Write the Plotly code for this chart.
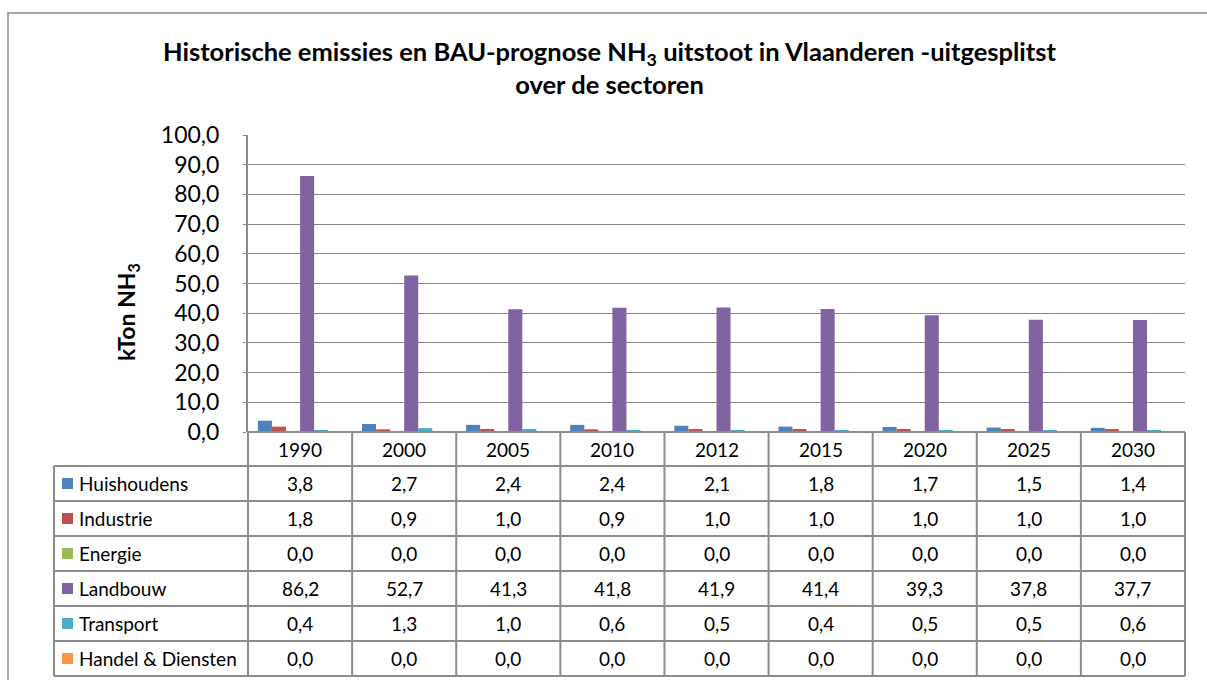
import plotly.graph_objects as go

years = ["1990", "2000", "2005", "2010", "2012", "2015", "2020", "2025", "2030"]
sectors = ["Huishoudens", "Industrie", "Energie", "Landbouw", "Transport", "Handel & Diensten"]
huishoudens = [3.8, 2.7, 2.4, 2.4, 2.1, 1.8, 1.7, 1.5, 1.4]
industrie = [1.8, 0.9, 1.0, 0.9, 1.0, 1.0, 1.0, 1.0, 1.0]
energie = [0.0, 0.0, 0.0, 0.0, 0.0, 0.0, 0.0, 0.0, 0.0]
landbouw = [86.2, 52.7, 41.3, 41.8, 41.9, 41.4, 39.3, 37.8, 37.7]
transport = [0.4, 1.3, 1.0, 0.6, 0.5, 0.4, 0.5, 0.5, 0.6]
handel = [0.0, 0.0, 0.0, 0.0, 0.0, 0.0, 0.0, 0.0, 0.0]
series_values = [huishoudens, industrie, energie, landbouw, transport, handel]
colors = ["#4F81BD", "#C0504D", "#9BBB59", "#8064A2", "#4BACC6", "#F79646"]
y_ticks = [0, 10, 20, 30, 40, 50, 60, 70, 80, 90, 100]

W, H = 1207, 680
FONT = "Lato"
GRID = "#868686"
LINE = "#8c8c8c"


def px(x):
    return x / W


def py(y):
    return 1 - y / H


PL, PR, PT, PB = 248, 1185, 135, 432
LEFT_COL = 54
row_edges = [432, 466, 501, 536, 571, 606, 641, 676]

fig = go.Figure()
for name, vals, col in zip(sectors, series_values, colors):
    fig.add_trace(go.Bar(x=years, y=vals, name=name, marker=dict(color=col, line=dict(width=0))))

shapes = []
# outer frame
shapes.append(dict(type="rect", xref="paper", yref="paper", x0=px(8), x1=px(1215), y0=py(13), y1=py(700),
                   line=dict(color="#8a8a8a", width=1.5)))
# table horizontal lines
for y in row_edges[1:]:
    shapes.append(dict(type="line", xref="paper", yref="paper", x0=px(LEFT_COL), x1=px(PR), y0=py(y), y1=py(y),
                       line=dict(color=LINE, width=2)))
shapes.append(dict(type="line", xref="paper", yref="paper", x0=px(PL), x1=px(PR), y0=py(PB), y1=py(PB),
                   line=dict(color=LINE, width=2)))
# table vertical lines between categories
for i in range(1, len(years)):
    shapes.append(dict(type="line", xref="x", yref="paper", x0=i - 0.5, x1=i - 0.5, y0=py(row_edges[0]), y1=py(row_edges[-1]),
                       line=dict(color=LINE, width=2)))
for xv in (PL, PR):
    shapes.append(dict(type="line", xref="paper", yref="paper", x0=px(xv), x1=px(xv), y0=py(row_edges[0]), y1=py(row_edges[-1]),
                       line=dict(color=LINE, width=2)))
shapes.append(dict(type="line", xref="paper", yref="paper", x0=px(LEFT_COL), x1=px(LEFT_COL), y0=py(row_edges[1]), y1=py(row_edges[-1]),
                   line=dict(color=LINE, width=2)))

annotations = []
TS = 19
# header years
hc = (row_edges[0] + row_edges[1]) / 2
for i, yr in enumerate(years):
    annotations.append(dict(x=i, y=py(hc), xref="x", yref="paper", text=yr, showarrow=False,
                            font=dict(family=FONT, size=TS, color="black"), xanchor="center", yanchor="middle"))
for r, (name, vals, col) in enumerate(zip(sectors, series_values, colors)):
    yc = (row_edges[r + 1] + row_edges[r + 2]) / 2
    shapes.append(dict(type="rect", xref="paper", yref="paper", x0=px(62), x1=px(73), y0=py(yc - 5.5), y1=py(yc + 5.5),
                       line=dict(width=0), fillcolor=col))
    annotations.append(dict(x=px(77), y=py(yc), xref="paper", yref="paper", text=name, showarrow=False,
                            font=dict(family=FONT, size=TS, color="black"), xanchor="left", yanchor="middle"))
    for i, v in enumerate(vals):
        annotations.append(dict(x=i, y=py(yc), xref="x", yref="paper", text=f"{v:.1f}".replace(".", ","), showarrow=False,
                                font=dict(family=FONT, size=TS, color="black"), xanchor="center", yanchor="middle"))

# title
annotations.append(dict(x=px(610), y=py(68), xref="paper", yref="paper",
                        text="<b>Historische emissies en BAU-prognose NH<sub>3</sub> uitstoot in Vlaanderen -uitgesplitst<br>over de sectoren</b>",
                        showarrow=False, font=dict(family=FONT, size=25.5, color="black"), xanchor="center", yanchor="middle"))
# y axis title
annotations.append(dict(x=px(128), y=py(312), xref="paper", yref="paper", text="<b>kTon NH<sub>3</sub></b>", textangle=-90,
                        showarrow=False, font=dict(family=FONT, size=23, color="black"), xanchor="center", yanchor="middle"))

fig.update_layout(
    width=W, height=H,
    margin=dict(l=0, r=0, t=0, b=0, autoexpand=False),
    paper_bgcolor="white", plot_bgcolor="white",
    separators=",.",
    showlegend=False,
    barmode="group", bargap=0.19, bargroupgap=0,
    shapes=shapes, annotations=annotations,
    xaxis=dict(domain=[px(PL), px(PR)], type="category", categoryorder="array", categoryarray=years,
               range=[-0.5, len(years) - 0.5], showticklabels=False, showgrid=False, zeroline=False,
               showline=False, ticks="", automargin=False),
    yaxis=dict(domain=[py(PB), py(PT)], range=[0, 100], tickvals=y_ticks, tickformat=".1f",
               showgrid=True, gridcolor=GRID, gridwidth=1, zeroline=False,
               showline=True, linecolor=LINE, linewidth=2, ticks="outside", ticklen=3, tickcolor=GRID,
               tickfont=dict(family=FONT, size=23, color="black"), ticklabelstandoff=19, automargin=False),
)

fig.write_html("out.html", config={"displayModeBar": False},
               post_script="document.body.style.margin='0';document.body.style.overflow='hidden';")
